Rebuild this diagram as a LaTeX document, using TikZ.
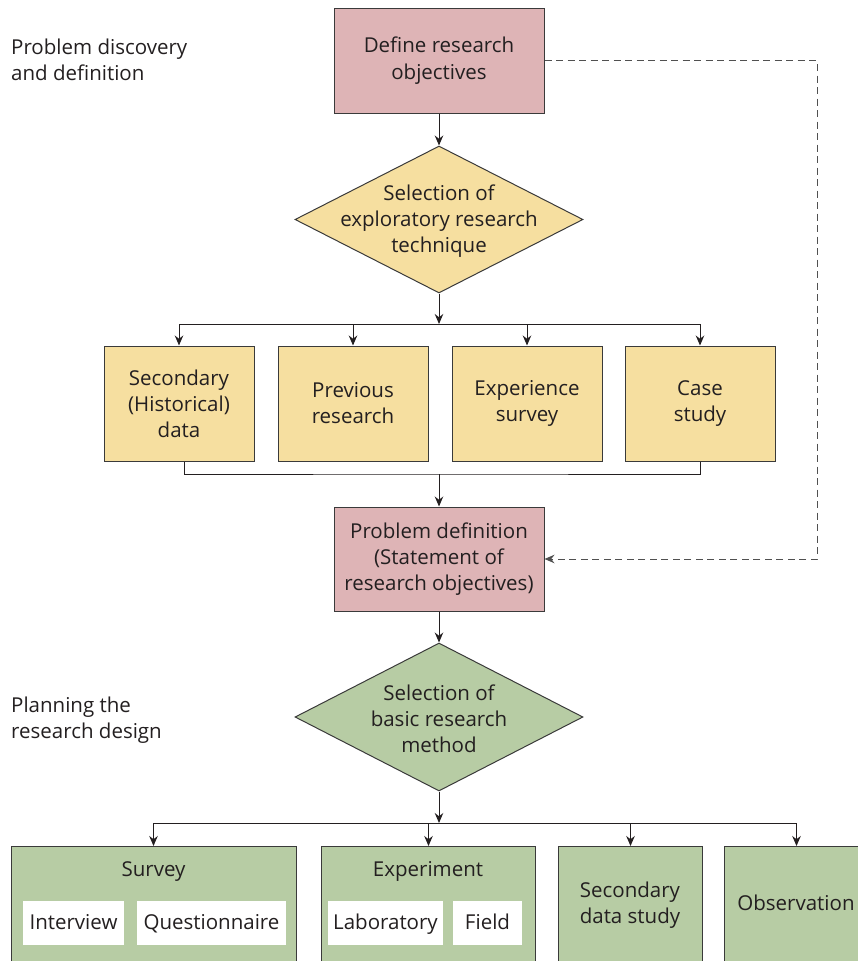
\documentclass[tikz,border=0pt]{standalone}
\usepackage{fontspec}
\setmainfont{Open Sans}
\usetikzlibrary{arrows.meta,shapes.geometric}
\definecolor{pinkfill}{HTML}{DEB4B6}
\definecolor{yelfill}{HTML}{F6DFA0}
\definecolor{grnfill}{HTML}{B7CCA4}
\definecolor{edge}{HTML}{3A3A3A}
\definecolor{ink}{HTML}{231F20}
\definecolor{dashgray}{HTML}{505050}
\begin{document}
\begin{tikzpicture}[x=1pt,y=-1pt,
  txt/.style={font=\fontsize{20.5}{26}\selectfont, text=ink, align=center, inner sep=0pt},
  oneline/.style={txt, text height=15pt, text depth=3pt},
  boxbase/.style={txt, draw=edge, line width=1pt, rectangle},
  pinkbox/.style={boxbase, fill=pinkfill, minimum width=210pt, minimum height=105pt},
  techbox/.style={boxbase, fill=yelfill, minimum width=150pt, minimum height=115pt},
  methbox/.style={boxbase, fill=grnfill, anchor=north west, minimum height=150pt},
  subbox/.style={oneline, fill=white, minimum height=44pt},
  decision/.style={diamond, draw=edge, line width=1pt, inner sep=0pt,
    minimum width=288pt, minimum height=147pt},
  conn/.style={draw=ink, line width=1pt},
  arr/.style={conn, -{Stealth[length=10pt,width=8.5pt]}},
  feedback/.style={draw=dashgray, line width=1pt, dash pattern=on 7pt off 4.5pt,
    -{Stealth[length=10pt,width=8.5pt]}},
]
\useasboundingbox (0,0) rectangle (858,961);
\clip (0,0) rectangle (858,961);

% phase captions
\node[txt, align=left, anchor=north west] (phaseA) at (11,39) {Problem discovery\\and definition};
\node[txt, align=left, anchor=north west] (phaseB) at (11,697) {Planning the\\research design};

% exploratory stage
\node[pinkbox] (define) at (439,60.5) {Define research\\[1pt]objectives};
\node[decision, fill=yelfill,
  label={[txt, yshift=-1.5pt]center:Selection of\\exploratory research\\technique}] (selA) at (439,219.5) {};

\node[techbox] (secdata) at (179,403.5) {Secondary\\(Historical)\\data};
\node[techbox] (prev)    at (353,403.5) {Previous\\research};
\node[techbox] (expsurv) at (527,403.5) {Experience\\survey};
\node[techbox] (case)    at (700,403.5) {Case\\study};

\node[pinkbox, minimum height=104pt] (probdef) at (439,559)
  {Problem definition\\(Statement of\\research objectives)};

% design stage
\node[decision, fill=grnfill, minimum height=148pt,
  label={[txt, yshift=-1.5pt]center:Selection of\\basic research\\method}] (selB) at (439,717) {};

\node[methbox, minimum width=285pt] (survey) at (11,846) {};
\node[methbox, minimum width=214pt] (experiment) at (321,846) {};
\node[methbox, minimum width=144pt] (secstudy) at (558,846) {};
\node[methbox, minimum width=144pt] (observ) at (724,846) {};

\node[oneline] (surveyT) at (153.5,870) {Survey};
\node[oneline] (experT) at (428,870) {Experiment};
\node[txt] (secT) at (630,905) {Secondary\\data study};
\node[oneline] (obsT) at (796,904) {Observation};

\node[subbox, minimum width=101pt] (interview) at (73.5,923) {Interview};
\node[subbox, minimum width=149pt] (quest) at (211.5,923) {Questionnaire};
\node[subbox, minimum width=115pt] (lab) at (385.5,923) {Laboratory};
\node[subbox, minimum width=69pt] (field) at (487.5,923) {Field};

% connectors, exploratory stage
\coordinate (busA) at (439,324);
\coordinate (joinA) at (439,474);
\draw[arr] (define.south) -- (selA.north);
\draw[arr] (selA.south) -- (busA);
\draw[conn] (secdata.north |- busA) -- (case.north |- busA);
\foreach \n in {secdata,prev,expsurv,case}
  \draw[arr] (\n.north |- busA) -- (\n.north);
\draw[conn] ([xshift=5pt]secdata.south) |- (joinA) -| (case.south);
\draw[arr] (joinA) -- (probdef.north);

% feedback path
\coordinate (fbR) at (817,60.5);
\draw[feedback] (define.east) -- (fbR) |- (probdef.east);

% connectors, design stage
\coordinate (busB) at (439,823);
\draw[arr] (probdef.south) -- (selB.north);
\draw[arr] (selB.south) -- (busB);
\draw[conn] (153.5,823) -- (796,823);
\draw[arr] (153.5,823) -- (153.5,846);
\foreach \n in {experiment,secstudy,observ}
  \draw[arr] (\n.north |- busB) -- (\n.north);
\end{tikzpicture}
\end{document}
